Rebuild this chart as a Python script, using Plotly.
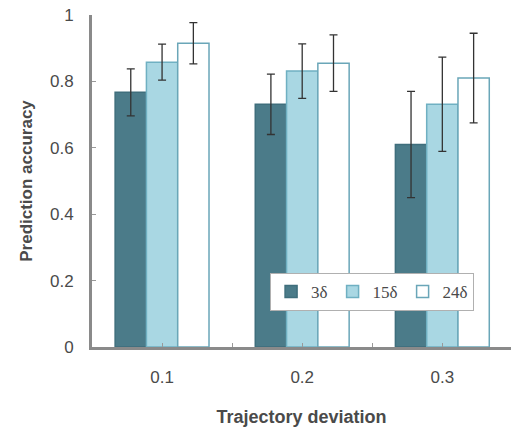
import plotly.graph_objects as go

categories = ["0.1", "0.2", "0.3"]
series_names = ["3δ", "15δ", "24δ"]
acc_3 = [0.767, 0.731, 0.610]
acc_15 = [0.858, 0.831, 0.731]
acc_24 = [0.915, 0.855, 0.810]
err_3 = [0.071, 0.091, 0.160]
err_15 = [0.054, 0.082, 0.142]
err_24 = [0.062, 0.085, 0.135]

fill_colors = ["#4b7b89", "#a9d7e3", "#ffffff"]
line_colors = ["#3f6e7c", "#6fb0c2", "#6aa6b8"]

x = list(range(len(categories)))
fig = go.Figure()
for name, vals, errs, fc, lc in zip(series_names, [acc_3, acc_15, acc_24],
                                    [err_3, err_15, err_24], fill_colors, line_colors):
    fig.add_trace(go.Bar(
        x=x, y=vals, name=name,
        marker=dict(color=fc, line=dict(color=lc, width=1.5)),
        error_y=dict(type="data", array=errs, color="#333333", thickness=1.3, width=4),
    ))

tick_vals = [0, 0.5, 1, 1.5, 2]
tick_text = ["0.1", "", "0.2", "", "0.3"]

fig.update_layout(
    width=511, height=430,
    margin=dict(l=92, r=0, t=15, b=83),
    paper_bgcolor="white", plot_bgcolor="white",
    barmode="group", bargap=0.33, bargroupgap=0,
    font=dict(family="Liberation Sans, Arial", color="#4a4a4a", size=13),
    showlegend=True,
    legend=dict(orientation="h", x=0.425, y=0.223, xanchor="left", yanchor="top",
                bgcolor="white", bordercolor="#b0b0b0", borderwidth=1,
                font=dict(family="Liberation Serif, DejaVu Serif", size=17, color="#4a4a4a"),
                itemwidth=30, tracegroupgap=0),
    xaxis=dict(range=[-0.5, 2.49], tickvals=tick_vals, ticktext=tick_text,
               ticks="inside", ticklen=4, tickcolor="#999999", tickwidth=1,
               showline=True, linecolor="#8a8a8a", linewidth=3, showgrid=False, zeroline=False,
               ticklabelstandoff=13,
               tickfont=dict(size=17, color="#4a4a4a"),
               title=dict(text="<b>Trajectory deviation</b>", font=dict(size=18, color="#4a4a4a"), standoff=24)),
    yaxis=dict(range=[0, 1], tickvals=[0, 0.2, 0.4, 0.6, 0.8, 1], ticktext=["0", "0.2", "0.4", "0.6", "0.8", "1"],
               ticks="inside", ticklen=4, tickcolor="#999999", tickwidth=1,
               showline=True, linecolor="#8a8a8a", linewidth=3, showgrid=False, zeroline=False,
               ticklabelstandoff=12,
               tickfont=dict(size=17, color="#4a4a4a"),
               title=dict(text="<b>Prediction accuracy</b>", font=dict(size=17, color="#4a4a4a"), standoff=14)),
)

fig.write_html("out.html")
